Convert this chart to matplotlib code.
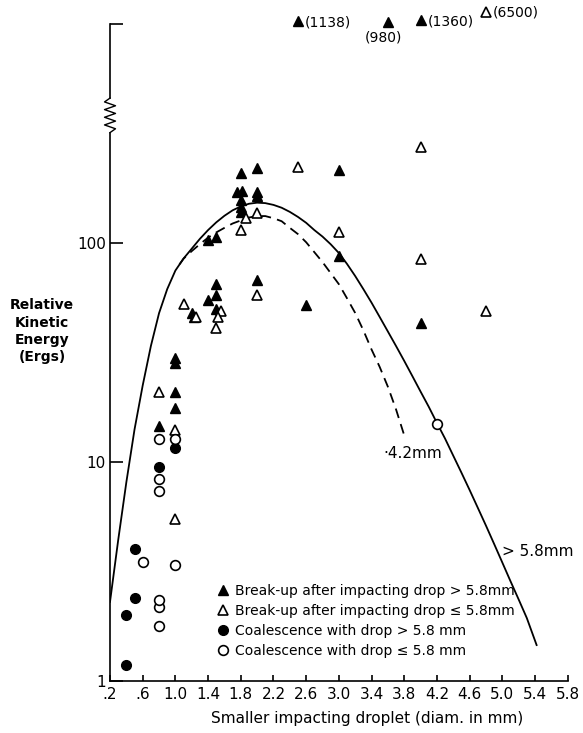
import numpy as np
import matplotlib.pyplot as plt
from matplotlib.lines import Line2D

plt.rcParams['font.family'] = ['DejaVu Sans']

# break-up after impacting drop > 5.8 mm (filled triangles)
bu_big_x = [1.8, 2.0, 3.0, 1.75, 1.82, 2.0, 2.0, 1.8, 1.8, 1.8,
            1.4, 1.5, 1.5, 1.5, 1.4, 1.5, 1.2, 1.23, 2.0, 2.6, 3.0, 4.0,
            1.0, 1.0, 1.0, 1.0, 0.8]
bu_big_y = [210, 220, 215, 171, 174, 171, 165, 157, 146, 139,
            103, 107, 65, 58, 55, 50, 48, 46, 68, 52, 87, 43,
            30, 28.5, 21, 17.7, 14.6]

# break-up after impacting drop <= 5.8 mm (open triangles)
bu_small_x = [0.8, 1.0, 1.0, 1.1, 1.25, 1.56, 1.52, 1.5, 1.86, 2.0, 1.8,
              2.0, 2.5, 3.0, 4.0, 4.0, 4.8]
bu_small_y = [21, 14, 5.5, 53, 46, 49, 46, 41, 130, 137, 115,
              58, 222, 113, 274, 85, 49]

# coalescence with drop > 5.8 mm (filled circles)
co_big_x = [0.4, 0.4, 0.5, 0.5, 0.8, 1.0]
co_big_y = [1.18, 2.0, 2.4, 4.0, 9.5, 11.6]

# coalescence with drop <= 5.8 mm (open circles)
co_small_x = [0.6, 0.8, 0.8, 0.8, 1.0, 0.8, 0.8, 0.8, 1.0, 4.2]
co_small_y = [3.5, 1.78, 2.18, 2.34, 3.4, 7.4, 8.4, 12.7, 12.7, 15]

# off-scale points (drawn above the axis break)
off_filled_x = [2.5, 3.6, 4.0]
off_filled_v = [1138, 980, 1360]
off_open_x = [4.8]
off_open_v = [6500]

# boundary curve, impacting drop > 5.8 mm
solid_x = [0.2, 0.3, 0.4, 0.5, 0.6, 0.7, 0.8, 0.9, 1.0, 1.1, 1.2, 1.3, 1.4,
           1.5, 1.6, 1.7, 1.8, 1.9, 2.0, 2.1, 2.2, 2.3, 2.4, 2.5, 2.6, 2.7,
           2.8, 2.9, 3.0, 3.1, 3.2, 3.3, 3.4, 3.5, 3.6, 3.7, 3.8, 3.9, 4.0,
           4.1, 4.2, 4.3, 4.4, 4.5, 4.6, 4.7, 4.8, 4.9, 5.0, 5.1, 5.2, 5.3, 5.42]
solid_y = [2.3, 4.4, 8.1, 14.1, 22.4, 33.9, 47.9, 61.7, 75.0, 85.1, 94.4, 104.7, 114.8,
           124.5, 133.4, 141.3, 147.2, 151.4, 153.1, 152.4, 149.6, 145.2, 139.0, 131.8, 123.9, 114.8,
           107.2, 98.9, 90.2, 80.4, 70.8, 61.7, 53.5, 46.0, 39.5, 33.9, 29.0, 24.7, 21.0,
           17.9, 15.1, 12.8, 10.7, 8.95, 7.46, 6.19, 5.13, 4.23, 3.48, 2.86, 2.36, 1.94, 1.46]

# boundary curve, impacting drop 4.2 mm
dash_x = [1.05, 1.1, 1.2, 1.3, 1.4, 1.5, 1.6, 1.7, 1.8, 1.9, 2.0, 2.1, 2.2, 2.3,
          2.4, 2.5, 2.6, 2.7, 2.8, 2.9, 3.0, 3.1, 3.2, 3.3, 3.4, 3.5, 3.6, 3.7, 3.81]
dash_y = [80, 85, 92, 99, 106, 112, 117.5, 123, 127, 131, 133, 133, 130, 126,
          117.5, 110, 101, 91, 82, 73, 65, 56, 48, 40, 32.7, 27.2, 22.1, 17.4, 12.9]

xticks = [0.2, 0.6, 1.0, 1.4, 1.8, 2.2, 2.6, 3.0, 3.4, 3.8, 4.2, 4.6, 5.0, 5.4, 5.8]
xtick_labels = ['.2', '.6', '1.0', '1.4', '1.8', '2.2', '2.6', '3.0', '3.4',
                '3.8', '4.2', '4.6', '5.0', '5.4', '5.8']

legend_labels = ['Break-up after impacting drop > 5.8mm',
                 'Break-up after impacting drop \u2264 5.8mm',
                 'Coalescence with drop > 5.8 mm',
                 'Coalescence with drop \u2264 5.8 mm']


def squash(v):
    # compress values beyond the axis top so they sit just above it
    return 1000 * (np.asarray(v) / 700.0) ** 0.06


fig = plt.figure(figsize=(5.83, 7.33), dpi=100)
ax = fig.add_axes([0.1887, 0.0709, 0.785, 0.896])
ax.set_yscale('log')
ax.set_xlim(0.2, 5.8)
ax.set_ylim(1, 1000)

ax.plot(solid_x, solid_y, color='black', lw=1.3)
ax.plot(dash_x, dash_y, color='black', lw=1.3, linestyle=(0, (5.5, 3.5)))

ms = 7
ax.plot(bu_big_x, bu_big_y, '^', color='black', ms=ms, ls='none')
ax.plot(bu_small_x, bu_small_y, '^', mfc='white', mec='black', mew=1.2, ms=ms, ls='none')
ax.plot(co_big_x, co_big_y, 'o', color='black', ms=ms, ls='none')
ax.plot(co_small_x, co_small_y, 'o', mfc='white', mec='black', mew=1.2, ms=ms, ls='none', zorder=3)

ax.plot(off_filled_x, squash(off_filled_v), '^', color='black', ms=ms, ls='none', clip_on=False)
ax.plot(off_open_x, squash(off_open_v), '^', mfc='white', mec='black', mew=1.2, ms=ms,
        ls='none', clip_on=False)
for xv, v in zip(off_filled_x + off_open_x, off_filled_v + off_open_v):
    if v < 1000:
        ax.annotate('(%d)' % v, (xv, squash(v)), xytext=(-3, -11), textcoords='offset points',
                    ha='center', va='center', fontsize=10, annotation_clip=False)
    else:
        ax.annotate('(%d)' % v, (xv, squash(v)), xytext=(5, -1), textcoords='offset points',
                    ha='left', va='center', fontsize=10, annotation_clip=False)

# axes styling
for s in ['top', 'right', 'left']:
    ax.spines[s].set_visible(False)
ax.spines['bottom'].set_linewidth(1.2)

# left spine with a zigzag break
yt = ax.get_yaxis_transform()
ax.plot([0, 0], [1, 320], color='black', lw=1.2, transform=yt, clip_on=False)
zig_y = np.geomspace(320, 460, 10)
zig_x = [0, 0.012, -0.012, 0.012, -0.012, 0.012, -0.012, 0.012, -0.012, 0]
ax.plot(zig_x, zig_y, color='black', lw=1.0, transform=yt, clip_on=False)
ax.plot([0, 0], [460, 1000], color='black', lw=1.2, transform=yt, clip_on=False)

ax.set_yticks([1, 10, 100, 1000])
ax.set_yticklabels(['1', '10', '100', ''])
ax.yaxis.set_minor_locator(plt.NullLocator())
ax.tick_params(axis='y', direction='in', length=9, width=1.2, labelsize=11, pad=3)
ax.set_xticks(xticks)
ax.set_xticklabels(xtick_labels)
ax.tick_params(axis='x', direction='in', length=4, width=1.2, labelsize=11, pad=4)

ax.text(3.54, 11, '\u00b74.2mm', fontsize=11, ha='left', va='center')
ax.text(5.0, 3.9, '> 5.8mm', fontsize=11, ha='left', va='center')

fig.text(0.072, 0.548, 'Relative\nKinetic\nEnergy\n(Ergs)', ha='center', va='center',
         fontsize=10, fontweight='bold', linespacing=1.3)
fig.text(0.63, 0.02, 'Smaller impacting droplet (diam. in mm)', ha='center', va='center',
         fontsize=11)

handles = [
    Line2D([], [], marker='^', color='black', ls='none', ms=ms),
    Line2D([], [], marker='^', mfc='white', mec='black', mew=1.2, ls='none', ms=ms),
    Line2D([], [], marker='o', color='black', ls='none', ms=ms),
    Line2D([], [], marker='o', mfc='white', mec='black', mew=1.2, ls='none', ms=ms),
]
ax.legend(handles, legend_labels, loc='lower left', bbox_to_anchor=(0.22, 0.027),
          frameon=False, fontsize=10, handletextpad=0.35, labelspacing=0.42,
          handlelength=1.0, borderaxespad=0)

fig.savefig('out.png', dpi=100)
